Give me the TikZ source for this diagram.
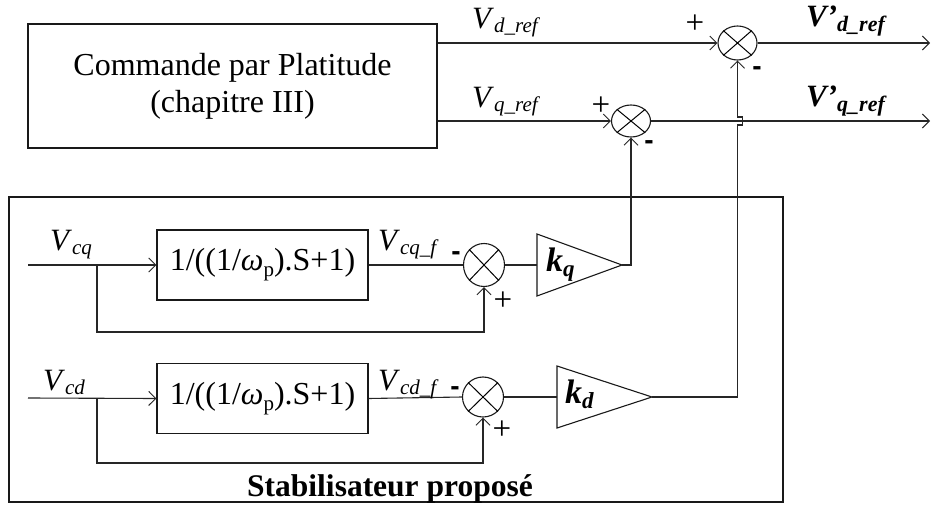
\documentclass[tikz,border=0pt]{standalone}
\usepackage{fontspec}
\setmainfont{Liberation Serif}
\newfontfamily\sansb{Liberation Sans}
\usetikzlibrary{arrows.meta,shapes.geometric,calc}
\newcommand\vsub[2]{\fontsize{31}{31}\selectfont\textit{#1}\raisebox{-4pt}{\fontsize{21}{21}\selectfont\textit{#2}}}
\newcommand\vsubb[2]{\bfseries\fontsize{31}{31}\selectfont\textit{#1}\raisebox{-5pt}{\fontsize{22}{22}\selectfont\textit{#2}}}
\newcommand\ksub[2]{\bfseries\fontsize{34}{34}\selectfont\textit{#1}\raisebox{-5pt}{\fontsize{23}{23}\selectfont\textit{#2}}}
\newcommand\tfun{1/((1/\textit{ω}\raisebox{-6pt}{\fontsize{21}{21}\selectfont p}).S+1)}
\tikzset{
  wire/.style={line width=1.1pt, draw=black!85},
  arr/.style={wire, -{Straight Barb[length=7pt,width=14pt,line width=1pt]}},
  blk/.style={draw=black!90, line width=1.1pt, inner sep=0, rectangle},
  tf/.style={blk, minimum width=211pt, minimum height=70pt, font=\fontsize{32}{32}\selectfont},
  sumnode/.style={draw=black!90, ellipse, line width=1.1pt, inner sep=0, minimum width=39pt, minimum height=34pt},
  plussign/.style={inner sep=0, font=\fontsize{33}{33}\selectfont},
  negsign/.style={inner sep=0, font=\sansb\bfseries\fontsize{28}{28}\selectfont},
  lbl/.style={inner sep=0, anchor=base west},
}
\newcommand\sumx[1]{\draw[line width=1pt] (#1.north west)--(#1.south east) (#1.north east)--(#1.south west);}
\begin{document}
\begin{tikzpicture}[x=1pt,y=-1pt]
\useasboundingbox (0,0) rectangle (931,513);
% top block
\node[blk, minimum width=409pt, minimum height=124pt, align=center,
      font=\fontsize{32}{37}\selectfont] (cmd) at (232.5,86) {Commande par Platitude\\(chapitre III)};
\node[sumnode] (s1) at (737.5,43) {};
\node[sumnode, minimum height=32pt] (s2) at (631,121) {};
\sumx{s1}\sumx{s2}
\coordinate (out1) at (930,43);
\coordinate (out2) at (930,121);
\draw[arr] (cmd.east |- s1.west) -- (s1.west);
\draw[arr] (s1.east) -- (out1);
\draw[arr] (cmd.east |- s2.west) -- (s2.west);
\draw[arr] (s2.east) -- (out2);
\node[lbl] (vdr) at (472,29) {\vsub{V}{d\_ref}};
\node[lbl] (vqr) at (472,108) {\vsub{V}{q\_ref}};
\node[lbl] (vdo) at (806,27) {\vsubb{V’}{d\_ref}};
\node[lbl] (vqo) at (806,107) {\vsubb{V’}{q\_ref}};
\node[plussign] (p1) at (695,24) {+};
\node[negsign] (m1) at (757,71) {-};
\node[plussign] (p2) at (601,106) {+};
\node[negsign] (m2) at (649,145) {-};
% stabiliser frame
\node[draw=black!90, line width=1.1pt, inner sep=0, minimum width=774pt, minimum height=305pt] (stab) at (396,349.5) {};
\node[inner sep=0, anchor=base, font=\bfseries\fontsize{31.5}{31.5}\selectfont] (stl) at (390,496) {Stabilisateur proposé};
% q branch
\node[tf] (fq) at (262.5,265) {\tfun};
\node[sumnode, minimum width=41pt, minimum height=43pt] (sq) at (484,265) {};
\sumx{sq}
\coordinate (kqin) at (537,265);
\coordinate (kqout) at (622,265);
\draw[line width=1.1pt, draw=black!90] (537,234) -- (kqout) -- (537,296) -- cycle;
\node[lbl] (kq) at (546,271) {\ksub{k}{q}};
\coordinate (inq) at (28,265);
\coordinate (bq) at (97,265);
\coordinate (bq2) at (97,332);
\draw[arr] (inq) -- (fq.west);
\draw[arr] (bq) -- (bq2) -| (sq.south);
\draw[wire] (fq.east) -- (sq.west);
\draw[wire] (sq.east) -- (kqin);
\draw[arr] (kqout) -| (s2.south);
\node[lbl] (vcq) at (50,250) {\vsub{V}{cq}};
\node[lbl] (vcqf) at (378,250) {\vsub{V}{cq\_f}};
\node[negsign] (m3) at (456,256) {-};
\node[plussign] (p3) at (503,301) {+};
% d branch
\node[tf] (fd) at (262.5,398.5) {\tfun};
\node[sumnode, minimum width=41pt, minimum height=40pt] (sd) at (483,397) {};
\sumx{sd}
\coordinate (kdin) at (557,397);
\coordinate (kdout) at (652,397);
\draw[line width=1.1pt, draw=black!90] (557,366) -- (kdout) -- (557,428) -- cycle;
\node[lbl] (kd) at (565,403) {\ksub{k}{d}};
\coordinate (ind) at (28,398);
\coordinate (bd) at (97,398);
\coordinate (bd2) at (97,463);
\draw[arr] (ind) -- (fd.west);
\draw[arr] (bd) -- (bd2) -| (sd.south);
\draw[wire] (fd.east) -- (sd.west);
\draw[wire] (sd.east) -- (kdin);
\node[lbl] (vcd) at (43,390) {\vsub{V}{cd}};
\node[lbl] (vcdf) at (378,390) {\vsub{V}{cd\_f}};
\node[negsign] (m4) at (455,391) {-};
\node[plussign] (p4) at (502,430) {+};
% kd output up to s1 with a hop over the q line
\coordinate (j0) at (kdout -| s1.south);
\coordinate (j1) at ($(s1.south |- s2.east)+(0,4)$);
\coordinate (j2) at ($(j1)+(5,0)$);
\coordinate (j3) at ($(j2)+(0,-8)$);
\coordinate (j4) at ($(j3)+(-5,0)$);
\draw[arr] (kdout) -- (j0) -- (j1) -- (j2) -- (j3) -- (j4) -- (s1.south);
\end{tikzpicture}
\end{document}
